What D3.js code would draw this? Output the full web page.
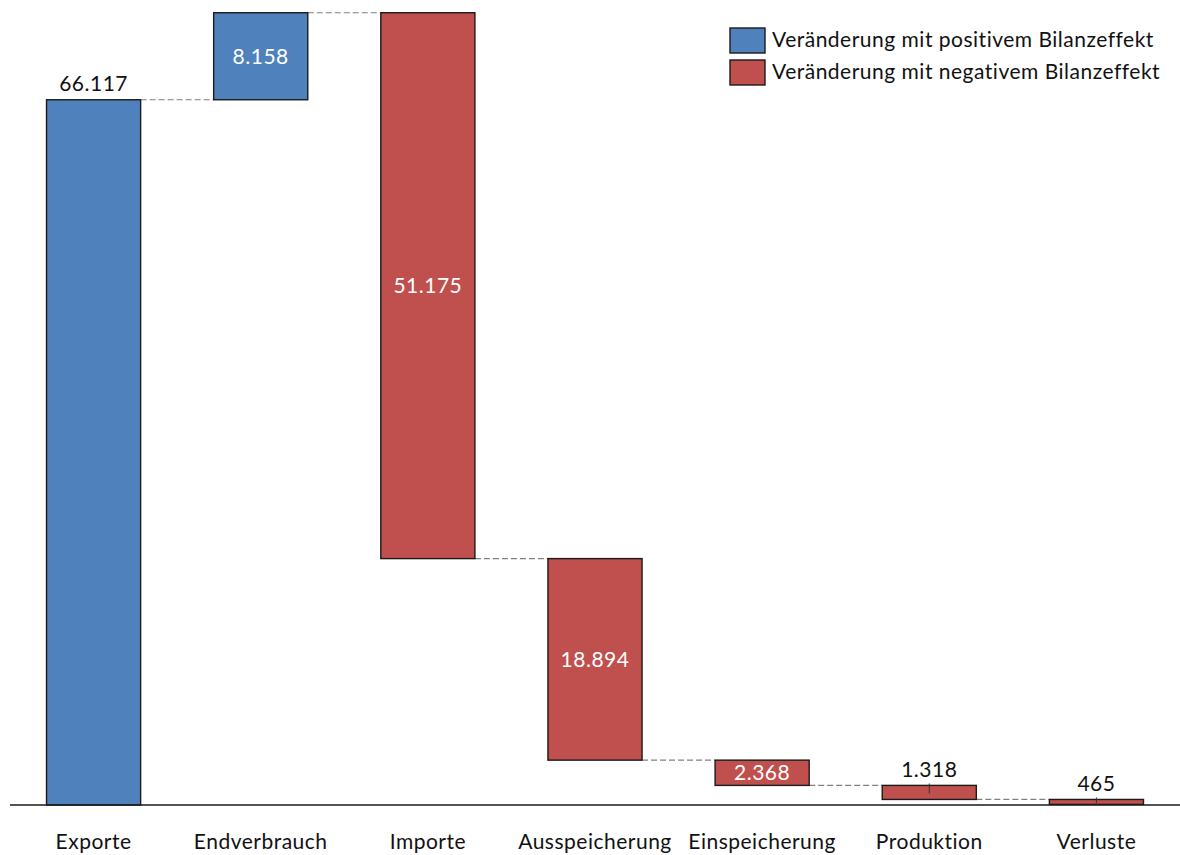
<!DOCTYPE html>
<html>
<head>
<meta charset="utf-8">
<script src="https://cdn.jsdelivr.net/npm/d3@7"></script>
<style>
  body { margin: 0; background: #fff; }
  svg { display: block; font-family: Lato, "Noto Sans", sans-serif; }
</style>
</head>
<body>
<svg id="chart" width="1180" height="855"></svg>
<script>
// waterfall data (values in thousands, German formatting)
const categories = ['Exporte', 'Endverbrauch', 'Importe', 'Ausspeicherung', 'Einspeicherung', 'Produktion', 'Verluste'];
const changes = [66.117, 8.158, -51.175, -18.894, -2.368, -1.318, -0.465];
const labels = ['66.117', '8.158', '51.175', '18.894', '2.368', '1.318', '465'];
const labelInside = [false, true, true, true, true, false, false];
const legendItems = ['Veränderung mit positivem Bilanzeffekt', 'Veränderung mit negativem Bilanzeffekt'];

const BLUE = '#4f81bd';
const RED = '#c0504d';

// running totals
let acc = 0;
const data = categories.map((c, i) => {
  const start = acc;
  acc += changes[i];
  return { cat: c, start, end: acc, v: changes[i], label: labels[i], inside: labelInside[i] };
});

const svg = d3.select('#chart');

const x = d3.scaleBand()
  .domain(categories)
  .range([10, 1180])
  .paddingInner(0.437)
  .paddingOuter(0.2185);

const y = d3.scaleLinear()
  .domain([0, 75])
  .range([805, 5]);

// connectors
const conn = svg.append('g');
data.slice(0, -1).forEach((d, i) => {
  const n = data[i + 1];
  conn.append('line')
    .attr('x1', x(d.cat) + x.bandwidth())
    .attr('x2', x(n.cat))
    .attr('y1', y(d.end))
    .attr('y2', y(d.end))
    .attr('stroke', '#808080')
    .attr('stroke-width', 1.2)
    .attr('stroke-dasharray', '6,3');
});

// bars
svg.append('g')
  .selectAll('rect')
  .data(data)
  .join('rect')
  .attr('x', d => x(d.cat))
  .attr('width', x.bandwidth())
  .attr('y', d => y(Math.max(d.start, d.end)))
  .attr('height', d => Math.abs(y(d.start) - y(d.end)))
  .attr('fill', d => d.v >= 0 ? BLUE : RED)
  .attr('stroke', '#1a1a1a')
  .attr('stroke-width', 1.4);

// baseline
svg.append('line')
  .attr('x1', 10).attr('x2', 1180)
  .attr('y1', y(0)).attr('y2', y(0))
  .attr('stroke', '#1a1a1a')
  .attr('stroke-width', 1.6);

// small leader ticks for labels above the last bars
svg.append('g')
  .selectAll('line')
  .data(data.filter((d, i) => !d.inside && i > 0))
  .join('line')
  .attr('x1', d => x(d.cat) + x.bandwidth() / 2)
  .attr('x2', d => x(d.cat) + x.bandwidth() / 2)
  .attr('y1', d => y(Math.max(d.start, d.end)) - 2)
  .attr('y2', d => (y(d.start) + y(d.end)) / 2 + 1)
  .attr('stroke', '#333')
  .attr('stroke-width', 1);

// value labels
svg.append('g')
  .selectAll('text')
  .data(data)
  .join('text')
  .attr('x', d => x(d.cat) + x.bandwidth() / 2)
  .attr('y', d => d.inside
    ? (y(d.start) + y(d.end)) / 2 + 2
    : y(Math.max(d.start, d.end)) - 14)
  .attr('text-anchor', 'middle')
  .attr('dominant-baseline', 'middle')
  .style('font-size', '21px')
  .style('letter-spacing', '0.5px')
  .attr('fill', d => d.inside ? '#fff' : '#111')
  .text(d => d.label);

// category labels
svg.append('g')
  .selectAll('text')
  .data(categories)
  .join('text')
  .attr('x', d => x(d) + x.bandwidth() / 2)
  .attr('y', 844)
  .attr('text-anchor', 'middle')
  .attr('dominant-baseline', 'middle')
  .style('font-size', '21px')
  .style('letter-spacing', '0.5px')
  .attr('fill', '#111')
  .text(d => d);

// legend
const legend = svg.append('g').attr('transform', 'translate(730, 28)');
const item = legend.selectAll('g')
  .data(legendItems)
  .join('g')
  .attr('transform', (_, i) => `translate(0, ${i * 32})`);

item.append('rect')
  .attr('width', 35)
  .attr('height', 25)
  .attr('fill', (_, i) => i === 0 ? BLUE : RED)
  .attr('stroke', '#1a1a1a')
  .attr('stroke-width', 1.4);

item.append('text')
  .attr('x', 42)
  .attr('y', 14)
  .attr('dominant-baseline', 'middle')
  .style('font-size', '21px')
  .style('letter-spacing', '0.5px')
  .attr('fill', '#111')
  .text(d => d);
</script>
</body>
</html>
